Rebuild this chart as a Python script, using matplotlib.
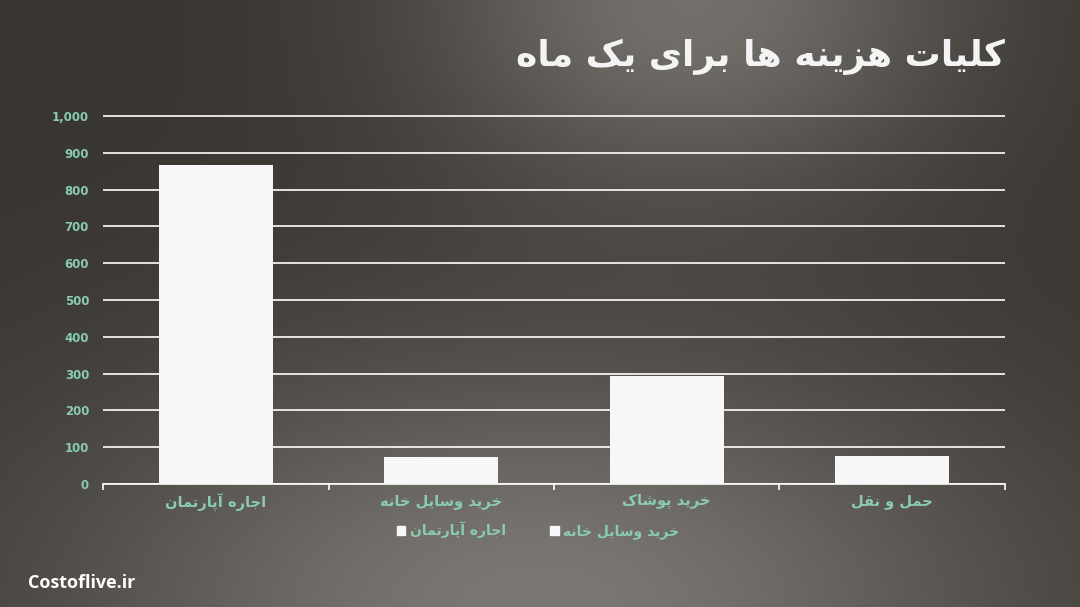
import numpy as np
import matplotlib
matplotlib.use("Agg")
import matplotlib.pyplot as plt
from matplotlib.patches import Rectangle
from matplotlib.ticker import FuncFormatter

# ---------------- data ----------------
categories = ["اجاره آپارتمان", "خرید وسایل خانه", "خرید پوشاک", "حمل و نقل"]
values = [867, 73, 293, 77]
legend_labels = ["اجاره آپارتمان", "خرید وسایل خانه"]
y_ticks = [0, 100, 200, 300, 400, 500, 600, 700, 800, 900, 1000]
title = "کلیات هزینه ها برای یک ماه"
site = "Costoflive.ir"

# ---------------- persian shaping (matplotlib has no RTL shaping) ----------------
# forms: isolated, final, initial, medial
FORMS = {
    "ا": (0xFE8D, 0xFE8E), "آ": (0xFE81, 0xFE82),
    "ب": (0xFE8F, 0xFE90, 0xFE91, 0xFE92), "پ": (0xFB56, 0xFB57, 0xFB58, 0xFB59),
    "ت": (0xFE95, 0xFE96, 0xFE97, 0xFE98), "ج": (0xFE9D, 0xFE9E, 0xFE9F, 0xFEA0),
    "ح": (0xFEA1, 0xFEA2, 0xFEA3, 0xFEA4), "خ": (0xFEA5, 0xFEA6, 0xFEA7, 0xFEA8),
    "د": (0xFEA9, 0xFEAA), "ر": (0xFEAD, 0xFEAE), "ز": (0xFEAF, 0xFEB0),
    "س": (0xFEB1, 0xFEB2, 0xFEB3, 0xFEB4), "ش": (0xFEB5, 0xFEB6, 0xFEB7, 0xFEB8),
    "ق": (0xFED5, 0xFED6, 0xFED7, 0xFED8), "ک": (0xFB8E, 0xFB8F, 0xFB90, 0xFB91),
    "ل": (0xFEDD, 0xFEDE, 0xFEDF, 0xFEE0), "م": (0xFEE1, 0xFEE2, 0xFEE3, 0xFEE4),
    "ن": (0xFEE5, 0xFEE6, 0xFEE7, 0xFEE8), "ه": (0xFEE9, 0xFEEA, 0xFEEB, 0xFEEC),
    "و": (0xFEED, 0xFEEE), "ی": (0xFBFC, 0xFBFD, 0xFBFE, 0xFBFF),
}

def shape(s):
    out = []
    for i, c in enumerate(s):
        if c not in FORMS:
            out.append(c)
            continue
        prev = s[i-1] if i > 0 else ""
        nxt = s[i+1] if i < len(s)-1 else ""
        jp = prev in FORMS and len(FORMS[prev]) == 4
        jn = len(FORMS[c]) == 4 and nxt in FORMS
        f = FORMS[c]
        if jp and jn:
            out.append(chr(f[3]))
        elif jp:
            out.append(chr(f[1]))
        elif jn:
            out.append(chr(f[2]))
        else:
            out.append(chr(f[0]))
    return "".join(out)[::-1]

# ---------------- figure ----------------
W, H = 1080, 607
fig = plt.figure(figsize=(W/100, H/100), dpi=100)

# background gradient: dark warm gray, light spot top (right of centre) and bottom
bg = fig.add_axes([0, 0, 1, 1])
xx, yy = np.meshgrid(np.linspace(0, 1, 540), np.linspace(0, 1, 304))
top = 58*np.exp(-((xx-0.64)/0.25)**2 - (yy/0.32)**2)
bot = 66*np.exp(-((xx-0.5)/0.45)**2 - ((1-yy)/0.42)**2)
b = 57 + top + bot
img = np.dstack([b, b-4, b-9]) / 255.0
bg.imshow(np.clip(img, 0, 1), aspect="auto", extent=[0, 1, 1, 0])
bg.set_axis_off()

lab_col = "#8accb0"
ax = fig.add_axes([103/W, 1-484/H, 902/W, (484-112.3)/H])
ax.set_facecolor("none")
x = np.arange(len(categories))
ax.bar(x, values, width=0.505, color="#f7f7f7", zorder=3)
ax.set_xlim(-0.5, len(categories)-0.5)
ax.set_ylim(0, 1010)
ax.set_yticks(y_ticks)
ax.yaxis.set_major_formatter(FuncFormatter(lambda v, p: f"{int(v):,}"))
ax.yaxis.grid(True, color="white", lw=1.2, zorder=1)
ax.tick_params(axis="y", length=0, pad=10, labelsize=8.5, labelcolor=lab_col)
ax.set_xticks(x)
ax.set_xticklabels([shape(c) for c in categories], fontsize=10.5, fontweight="bold", color=lab_col)
ax.set_xticks(np.arange(-0.5, len(categories)), minor=True)
ax.tick_params(axis="x", which="major", length=0, pad=7)
ax.tick_params(axis="x", which="minor", length=4, color="white", width=1.2)
for sp in ["left", "right", "top"]:
    ax.spines[sp].set_visible(False)
ax.spines["bottom"].set_color("white")
ax.spines["bottom"].set_linewidth(1.2)
for t in ax.get_yticklabels():
    t.set_fontweight("bold")

handles = [Rectangle((0, 0), 1, 1, color="#f7f7f7") for _ in legend_labels]
fig.legend(handles, [shape(l) for l in legend_labels], loc="center", bbox_to_anchor=(538/W, 1-530/H),
           ncol=2, frameon=False, handlelength=0.6, handleheight=0.6, handletextpad=0.3,
           columnspacing=3.2, prop={"size": 10, "weight": "bold"}, labelcolor=lab_col)

fig.text(1005/W, 1-57/H, shape(title), ha="right", va="center", fontsize=26, fontweight="bold", color="#f4f4f4")
fig.text(28/W, 1-583/H, site, ha="left", va="center", fontsize=13, fontweight="bold",
         color="white", family="Open Sans")

fig.savefig("out.png", dpi=100)
